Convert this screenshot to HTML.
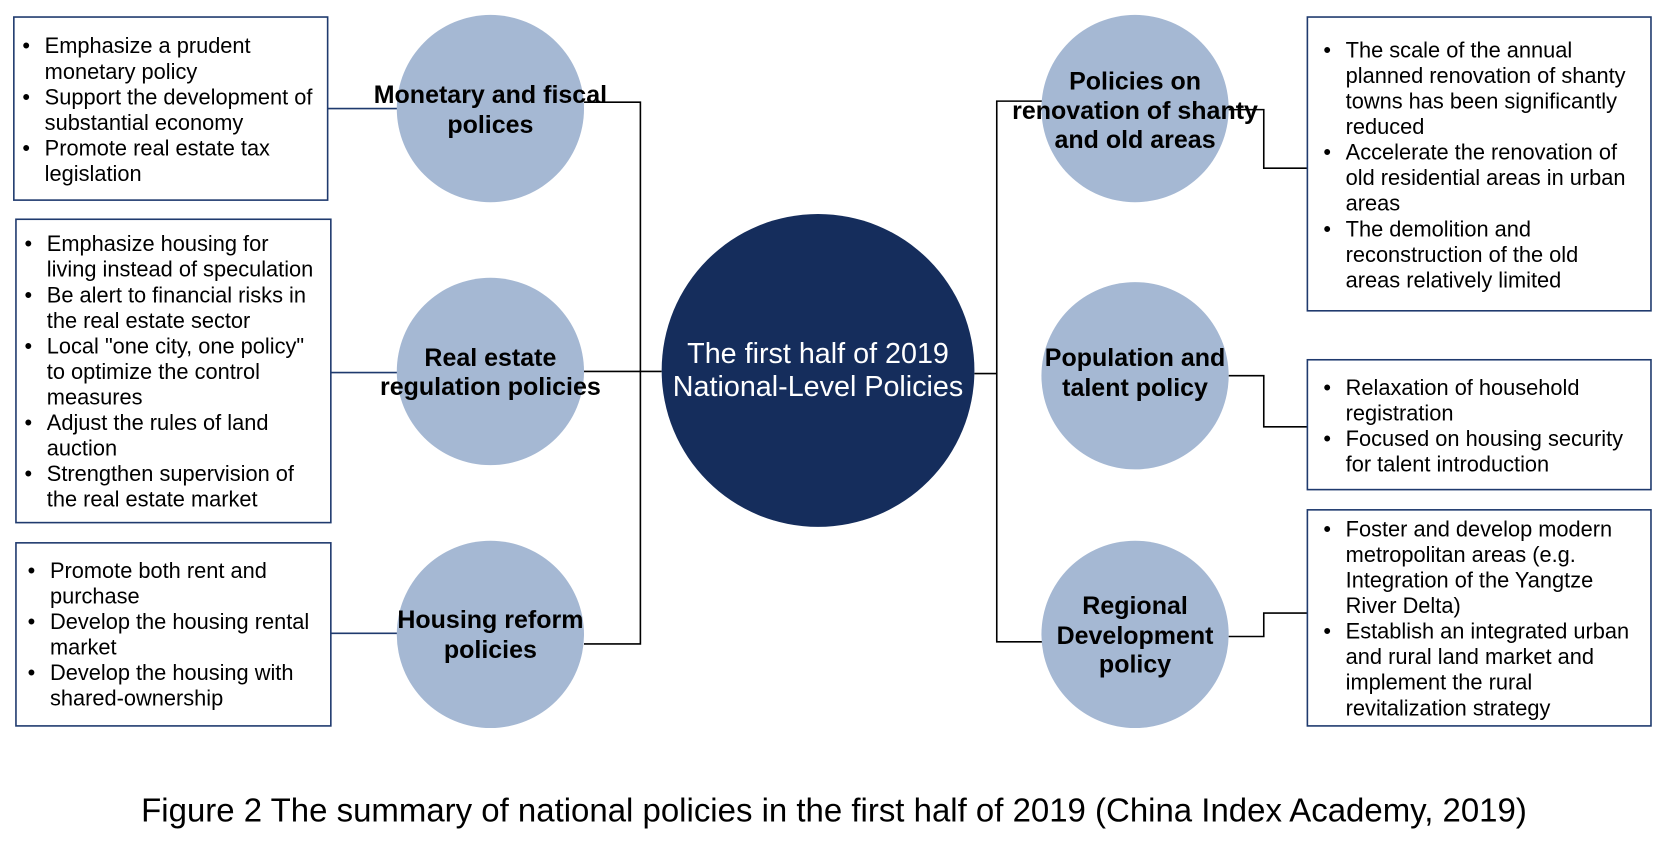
<!DOCTYPE html>
<html><head><meta charset="utf-8"><style>
html,body{margin:0;padding:0;background:#fff;}
svg{display:block;}
text{font-family:"Liberation Sans",Arial,sans-serif;fill:#000;}
.t{font-size:20.5px;}
.b{font-size:23.5px;font-weight:bold;}
</style></head><body>
<svg width="1668" height="843" viewBox="0 0 1568 792" preserveAspectRatio="none" xmlns="http://www.w3.org/2000/svg">
<rect width="1568" height="792" fill="#fff"/>
<g stroke="#000" stroke-width="1.5" fill="none">
<polyline points="549,96 602,96 602,605 549,605"/>
<line x1="549" y1="349" x2="622" y2="349"/>
<polyline points="980,95 937,95 937,603 980,603"/>
<line x1="916" y1="351" x2="937" y2="351"/>
<polyline points="1155,103 1188,103 1188,158 1229,158"/>
<polyline points="1155,353 1188,353 1188,401 1229,401"/>
<polyline points="1155,598 1188,598 1188,576 1229,576"/>
</g>
<g stroke="#1f3a6e" stroke-width="1.5" fill="none">
<line x1="308" y1="102" x2="380" y2="102"/>
<line x1="311" y1="350" x2="380" y2="350"/>
<line x1="311" y1="595" x2="380" y2="595"/>
</g>
<g fill="#a5b8d3">
<circle cx="461" cy="102" r="88"/>
<circle cx="461" cy="349" r="88"/>
<circle cx="461" cy="596" r="88"/>
<circle cx="1067" cy="102" r="88"/>
<circle cx="1067" cy="353" r="88"/>
<circle cx="1067" cy="596" r="88"/>
</g>
<circle cx="769" cy="348" r="147" fill="#152d5c"/>
<g fill="#fff" stroke="#1f3a6e" stroke-width="1.5">
<rect x="13" y="16" width="295" height="172"/>
<rect x="15" y="206" width="296" height="285"/>
<rect x="15" y="510" width="296" height="172"/>
<rect x="1229" y="16" width="323" height="276"/>
<rect x="1229" y="338" width="323" height="122"/>
<rect x="1229" y="479" width="323" height="203"/>
</g>
<g text-anchor="middle">
<text class="b" x="461" y="97">Monetary and fiscal</text>
<text class="b" x="461" y="125">polices</text>
<text class="b" x="461" y="344">Real estate</text>
<text class="b" x="461" y="371">regulation policies</text>
<text class="b" x="461" y="590">Housing reform</text>
<text class="b" x="461" y="618">policies</text>
<text class="b" x="1067" y="84">Policies on</text>
<text class="b" x="1067" y="112">renovation of shanty</text>
<text class="b" x="1067" y="139">and old areas</text>
<text class="b" x="1067" y="344">Population and</text>
<text class="b" x="1067" y="372">talent policy</text>
<text class="b" x="1067" y="577">Regional</text>
<text class="b" x="1067" y="605">Development</text>
<text class="b" x="1067" y="632">policy</text>
</g>
<text x="769" y="341" text-anchor="middle" style="font-size:27px;fill:#fff">The first half of 2019</text>
<text x="769" y="372" text-anchor="middle" style="font-size:27px;fill:#fff">National-Level Policies</text>
<g>
<text class="t" x="21" y="50">•</text><text class="t" x="42" y="50">Emphasize a prudent</text>
<text class="t" x="42" y="74">monetary policy</text>
<text class="t" x="21" y="98">•</text><text class="t" x="42" y="98">Support the development of</text>
<text class="t" x="42" y="122">substantial economy</text>
<text class="t" x="21" y="146">•</text><text class="t" x="42" y="146">Promote real estate tax</text>
<text class="t" x="42" y="170">legislation</text>

<text class="t" x="23" y="236">•</text><text class="t" x="44" y="236">Emphasize housing for</text>
<text class="t" x="44" y="260">living instead of speculation</text>
<text class="t" x="23" y="284">•</text><text class="t" x="44" y="284">Be alert to financial risks in</text>
<text class="t" x="44" y="308">the real estate sector</text>
<text class="t" x="23" y="332">•</text><text class="t" x="44" y="332">Local "one city, one policy"</text>
<text class="t" x="44" y="356">to optimize the control</text>
<text class="t" x="44" y="380">measures</text>
<text class="t" x="23" y="404">•</text><text class="t" x="44" y="404">Adjust the rules of land</text>
<text class="t" x="44" y="428">auction</text>
<text class="t" x="23" y="452">•</text><text class="t" x="44" y="452">Strengthen supervision of</text>
<text class="t" x="44" y="476">the real estate market</text>

<text class="t" x="26" y="543">•</text><text class="t" x="47" y="543">Promote both rent and</text>
<text class="t" x="47" y="567">purchase</text>
<text class="t" x="26" y="591">•</text><text class="t" x="47" y="591">Develop the housing rental</text>
<text class="t" x="47" y="615">market</text>
<text class="t" x="26" y="639">•</text><text class="t" x="47" y="639">Develop the housing with</text>
<text class="t" x="47" y="663">shared-ownership</text>

<text class="t" x="1244" y="54">•</text><text class="t" x="1265" y="54">The scale of the annual</text>
<text class="t" x="1265" y="78">planned renovation of shanty</text>
<text class="t" x="1265" y="102">towns has been significantly</text>
<text class="t" x="1265" y="126">reduced</text>
<text class="t" x="1244" y="150">•</text><text class="t" x="1265" y="150">Accelerate the renovation of</text>
<text class="t" x="1265" y="174">old residential areas in urban</text>
<text class="t" x="1265" y="198">areas</text>
<text class="t" x="1244" y="222">•</text><text class="t" x="1265" y="222">The demolition and</text>
<text class="t" x="1265" y="246">reconstruction of the old</text>
<text class="t" x="1265" y="270">areas relatively limited</text>

<text class="t" x="1244" y="371">•</text><text class="t" x="1265" y="371">Relaxation of household</text>
<text class="t" x="1265" y="395">registration</text>
<text class="t" x="1244" y="419">•</text><text class="t" x="1265" y="419">Focused on housing security</text>
<text class="t" x="1265" y="443">for talent introduction</text>

<text class="t" x="1244" y="504">•</text><text class="t" x="1265" y="504">Foster and develop modern</text>
<text class="t" x="1265" y="528">metropolitan areas (e.g.</text>
<text class="t" x="1265" y="552">Integration of the Yangtze</text>
<text class="t" x="1265" y="576">River Delta)</text>
<text class="t" x="1244" y="600">•</text><text class="t" x="1265" y="600">Establish an integrated urban</text>
<text class="t" x="1265" y="624">and rural land market and</text>
<text class="t" x="1265" y="648">implement the rural</text>
<text class="t" x="1265" y="672">revitalization strategy</text>
</g>
<text x="784" y="772" text-anchor="middle" style="font-size:31px">Figure 2 The summary of national policies in the first half of 2019 (China Index Academy, 2019)</text>
</svg>
</body></html>
